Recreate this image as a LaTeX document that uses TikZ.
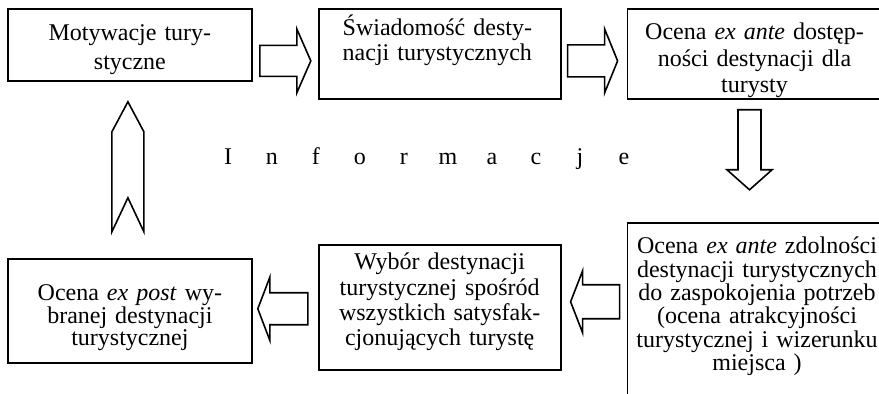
\documentclass[tikz,border=0pt]{standalone}
\usepackage{fontspec}
\setmainfont{Liberation Serif}
\usetikzlibrary{positioning,calc}

\tikzset{
  etap/.style={draw, line width=0.9pt, inner ysep=0pt, inner xsep=3pt, align=center,
    font=\fontsize{12}{12.5}\selectfont},
  strzalka/.style={line width=0.8pt, line join=miter},
  pics/blokstrzalka/.style n args={4}{code={
    \draw[strzalka] (0pt,-#2) -- ({#1-#4},-#2) -- ({#1-#4},-#3) -- (#1,0pt)
      -- ({#1-#4},#3) -- ({#1-#4},#2) -- (0pt,#2) -- cycle;}}
}

\begin{document}
\begin{tikzpicture}
\clip (0,0) rectangle (439.5pt,-197pt);

% gorny rzad
\node (motyw) [etap, anchor=north west, text width=116pt, text height=16pt, text depth=20pt,
  font=\fontsize{12}{14.5}\selectfont] at (3.5pt,-4pt) {Motywacje tury-\\styczne};
\node (swiad) [etap, right=32.5pt of motyw.north east, anchor=north west, align=left,
  inner xsep=12pt, text width=97pt, text height=13.5pt, text depth=31.5pt]
  {Świadomość desty-\\nacji turystycznych};
\node (ocena) [etap, right=32.5pt of swiad.north east, anchor=north west, text width=121pt,
  text height=15.5pt, text depth=29.5pt, font=\fontsize{12}{13.25}\selectfont]
  {Ocena \textit{ex ante} dostęp-\\ności destynacji dla\\turysty};

% dolny rzad
\node (zdol) [etap, below=61pt of ocena.south west, anchor=north west, text width=123.5pt,
  text height=15.5pt, text depth=74.5pt, font=\fontsize{12}{11.7}\selectfont]
  {Ocena \textit{ex ante} zdolności\\destynacji turystycznych\\do zaspokojenia potrzeb\\(ocena atrakcyjności\\turystycznej i wizerunku\\miejsca )};
\node (wybor) [etap, left=32.5pt of zdol.north west, anchor=north east, yshift=-11pt,
  text width=115pt, text height=12.5pt, text depth=50pt, font=\fontsize{12}{12.7}\selectfont]
  {Wybór destynacji\\turystycznej spośród\\wszystkich satysfak-\\cjonujących turystę};
\node (expost) [etap, left=32.5pt of wybor.north west, anchor=north east, yshift=-7pt,
  text width=116pt, text height=21pt, text depth=31pt, font=\fontsize{12}{11.25}\selectfont]
  {Ocena \textit{ex post} wy-\\branej destynacji\\turystycznej};

\node (info) [anchor=base, inner sep=0pt, font=\fontsize{12}{14}\selectfont] at (213pt,-82.5pt)
  {\foreach \l in {I,n,f,o,r,m,a,c,j,e}{\makebox[22pt]{\l}}};

% strzalki
\pic at ($(motyw.east)+(3.5pt,-8pt)$) {blokstrzalka={25.5pt}{7.75pt}{16pt}{7pt}};
\pic at ($(swiad.east)+(3pt,-3.5pt)$) {blokstrzalka={25pt}{8pt}{16pt}{6.5pt}};
\pic[rotate=-90] at ($(ocena.south)+(-2.5pt,-5pt)$) {blokstrzalka={40pt}{5.75pt}{11.25pt}{10pt}};
\pic[rotate=180] at ($(zdol.north west)+(-3.5pt,-40pt)$) {blokstrzalka={24.5pt}{8.5pt}{15.5pt}{6pt}};
\pic[rotate=180] at ($(wybor.north west)+(-5pt,-32.5pt)$) {blokstrzalka={25pt}{8pt}{15.75pt}{6pt}};

\coordinate (ogon) at ($(expost.north)+(-1pt,13pt)$);
\draw[strzalka] ($(ogon)+(-8pt,0pt)$) -- ++(0pt,50pt) -- ++(8pt,15pt) -- ++(8pt,-15pt)
  -- ++(0pt,-50pt) -- ++(-8pt,17pt) -- cycle;
\end{tikzpicture}
\end{document}
